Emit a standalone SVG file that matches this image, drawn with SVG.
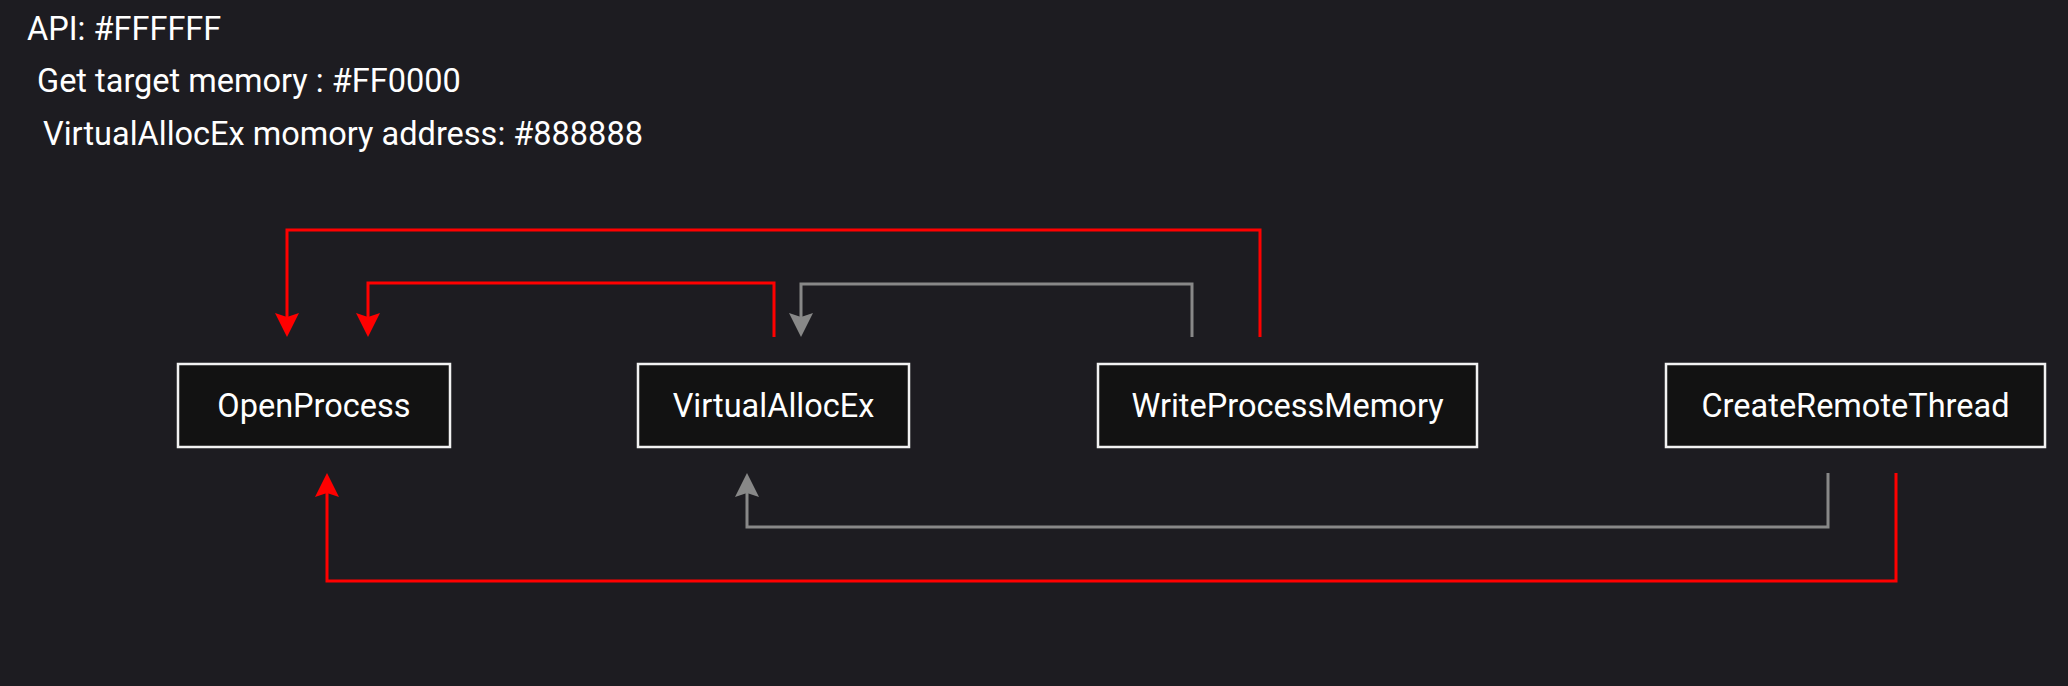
<svg xmlns="http://www.w3.org/2000/svg" width="2068" height="686" viewBox="0 0 2068 686">
  <style>
    .bg { fill: #1d1c21; }
    .legend { font-family: Roboto, "Liberation Sans", sans-serif; font-size: 32.5px; fill: #ffffff; }
    .box { fill: #121212; stroke: #f2f2f2; stroke-width: 2.5; }
    .label { font-family: Roboto, "Liberation Sans", sans-serif; font-size: 32.5px; fill: #ffffff; text-anchor: middle; }
    .red { fill: none; stroke: #ff0000; stroke-width: 3; }
    .gray { fill: none; stroke: #888888; stroke-width: 3; }
  </style>
  <defs>
    <marker id="arrowRed" markerUnits="userSpaceOnUse" markerWidth="24" markerHeight="24" viewBox="0 0 24 24" refX="4" refY="12" orient="auto">
      <path d="M0,0 L24,12 L0,24 L4,12 Z" fill="#ff0000"/>
    </marker>
    <marker id="arrowGray" markerUnits="userSpaceOnUse" markerWidth="24" markerHeight="24" viewBox="0 0 24 24" refX="4" refY="12" orient="auto">
      <path d="M0,0 L24,12 L0,24 L4,12 Z" fill="#888888"/>
    </marker>
  </defs>
  <rect class="bg" x="0" y="0" width="2068" height="686"/>

  <g id="legend">
    <text class="legend" x="27" y="40">API: #FFFFFF</text>
    <text class="legend" x="37" y="92">Get target memory : #FF0000</text>
    <text class="legend" x="43" y="145">VirtualAllocEx momory address: #888888</text>
  </g>

  <g id="connectors">
    <path class="red" d="M1260,337 V230 H287 V317" marker-end="url(#arrowRed)"/>
    <path class="red" d="M774,337 V283 H368 V317" marker-end="url(#arrowRed)"/>
    <path class="gray" d="M1192,337 V284 H801 V317" marker-end="url(#arrowGray)"/>
    <path class="gray" d="M1828,473 V527 H747 V493" marker-end="url(#arrowGray)"/>
    <path class="red" d="M1896,473 V581 H327 V493" marker-end="url(#arrowRed)"/>
  </g>

  <g id="node-openprocess">
    <rect class="box" x="178" y="364" width="272" height="83"/>
    <text class="label" x="314" y="417">OpenProcess</text>
  </g>
  <g id="node-virtualallocex">
    <rect class="box" x="638" y="364" width="271" height="83"/>
    <text class="label" x="773.5" y="417">VirtualAllocEx</text>
  </g>
  <g id="node-writeprocessmemory">
    <rect class="box" x="1098" y="364" width="379" height="83"/>
    <text class="label" x="1287.5" y="417">WriteProcessMemory</text>
  </g>
  <g id="node-createremotethread">
    <rect class="box" x="1666" y="364" width="379" height="83"/>
    <text class="label" x="1855.5" y="417">CreateRemoteThread</text>
  </g>
</svg>
